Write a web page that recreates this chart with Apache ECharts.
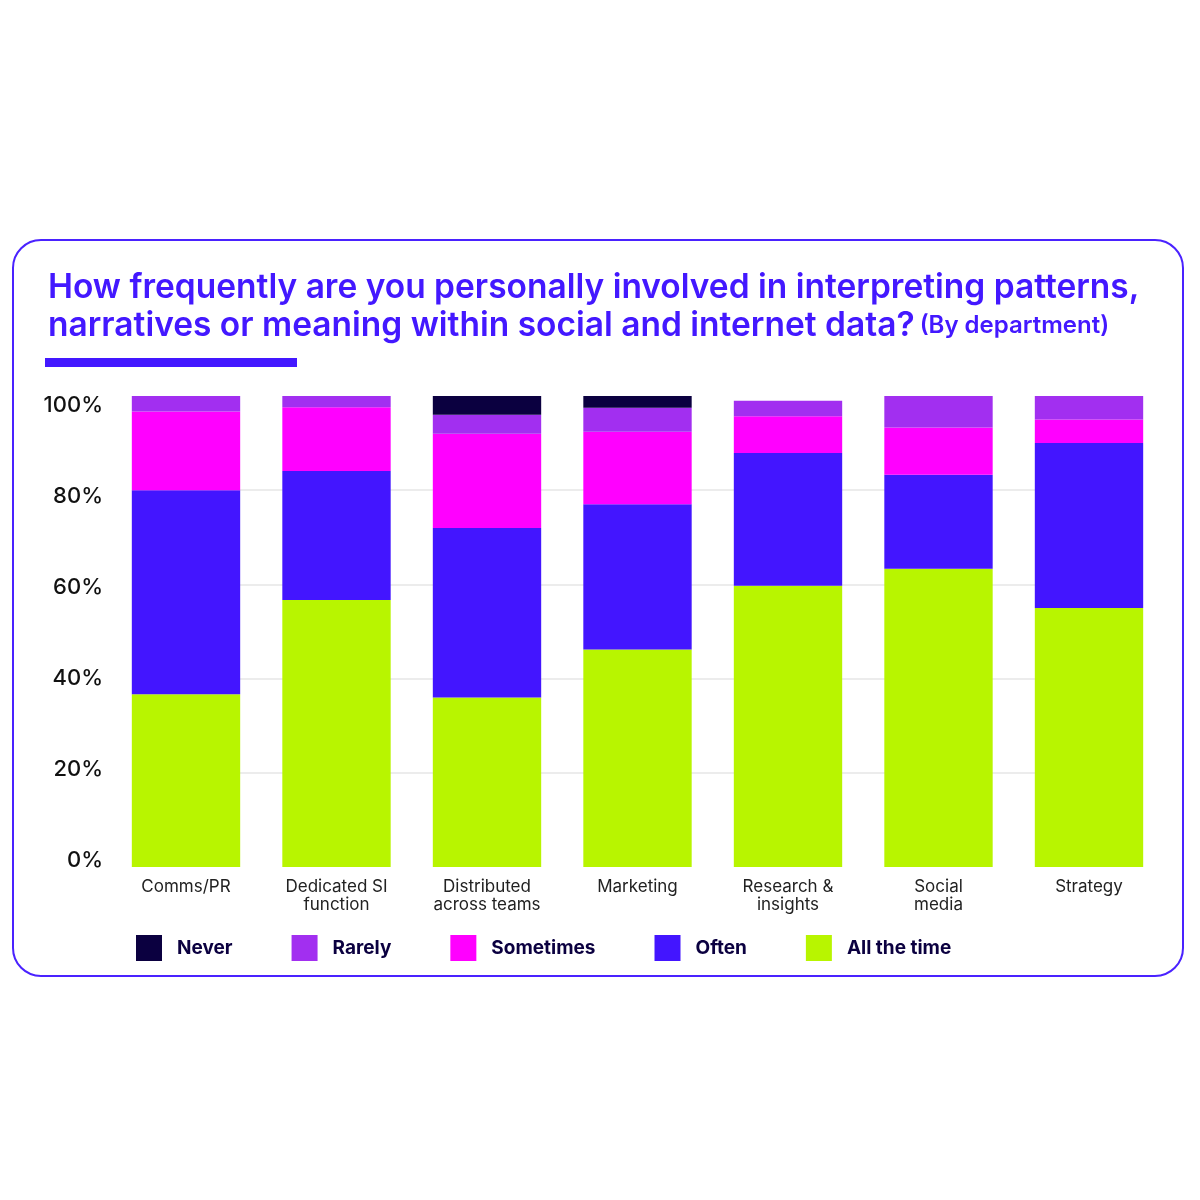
<!DOCTYPE html>
<html lang="en">
<head>
    <meta charset="UTF-8" />
    <title>Involvement in interpreting social data - by department</title>
    <script src="https://cdn.jsdelivr.net/npm/echarts@6.0.0/dist/echarts.min.js"></script>
    <style>
        html, body {
            margin: 0;
            padding: 0;
            width: 1200px;
            height: 1200px;
            background: #ffffff;
        }
        #chart {
            width: 1200px;
            height: 1200px;
        }
    </style>
</head>
<body>
<div id="chart"></div>
<script>
    const departments = ['Comms/PR', 'Dedicated SI\nfunction', 'Distributed\nacross teams', 'Marketing', 'Research &\ninsights', 'Social\nmedia', 'Strategy'];
    const allTheTime = [36.7, 56.7, 36.0, 46.2, 59.7, 63.3, 55.0];
    const often = [43.3, 27.4, 36.0, 30.8, 28.2, 20.0, 35.0];
    const sometimes = [16.7, 13.5, 20.0, 15.4, 7.8, 10.0, 5.0];
    const rarely = [3.3, 2.4, 4.0, 5.1, 3.3, 6.7, 5.0];
    const never = [0, 0, 4.0, 2.6, 0, 0, 0];
    const legendOrder = ['Never', 'Rarely', 'Sometimes', 'Often', 'All the time'];

    const FONT = 'Inter, "Noto Sans", sans-serif';
    const colors = {
        'Never': '#0b0040',
        'Rarely': '#a22ff0',
        'Sometimes': '#ff00ff',
        'Often': '#4315ff',
        'All the time': '#b8f500'
    };

    const chart = echarts.init(document.getElementById('chart'));

    // stacked from the bottom up
    const stack = [
        ['All the time', allTheTime],
        ['Often', often],
        ['Sometimes', sometimes],
        ['Rarely', rarely],
        ['Never', never]
    ];

    const option = {
        animation: false,
        graphic: [
            {
                type: 'rect',
                shape: { x: 13, y: 240, width: 1170, height: 736, r: 28 },
                style: { fill: 'none', stroke: '#4a22ff', lineWidth: 2 },
                silent: true
            },
            {
                type: 'rect',
                shape: { x: 45, y: 358, width: 252, height: 9 },
                style: { fill: '#4318ff' },
                silent: true
            }
        ],
        title: {
            left: 43,
            top: 264,
            text: '{a|How frequently are you personally involved in interpreting patterns,}\n{a|narratives or meaning within social and internet data?} {b|(By department)}',
            textStyle: {
                rich: {
                    a: { fontFamily: FONT, fontSize: 33.5, fontWeight: 600, color: '#4318ff', lineHeight: 38 },
                    b: { fontFamily: FONT, fontSize: 24, fontWeight: 600, color: '#4318ff', lineHeight: 38 }
                }
            }
        },
        legend: {
            data: legendOrder,
            left: 131,
            top: 930,
            itemWidth: 26,
            itemHeight: 26,
            itemGap: 59,
            icon: 'rect',
            selectedMode: false,
            textStyle: {
                fontFamily: FONT,
                fontSize: 19,
                fontWeight: 700,
                color: '#0b0040',
                padding: [0, 0, 0, 10]
            }
        },
        grid: [
            { left: 110.75, right: 35.75, top: 396, bottom: 333 },   // bars
            { left: 110, right: 36, top: 405, bottom: 340 },         // y tick labels
            { left: 132, right: 57, top: 490, bottom: 427 }          // gridlines 20-80
        ],
        xAxis: [
            {
                type: 'category',
                gridIndex: 0,
                data: departments,
                axisLine: { show: false },
                axisTick: { show: false },
                axisLabel: {
                    interval: 0,
                    margin: 11,
                    fontFamily: FONT,
                    fontSize: 17,
                    lineHeight: 18,
                    color: '#222222',
                    verticalAlign: 'top'
                }
            },
            { type: 'value', gridIndex: 1, show: false },
            { type: 'value', gridIndex: 2, show: false }
        ],
        yAxis: [
            {
                type: 'value',
                gridIndex: 0,
                min: 0,
                max: 100,
                interval: 20,
                axisLabel: { show: false },
                axisLine: { show: false },
                axisTick: { show: false },
                splitLine: { show: false }
            },
            {
                type: 'value',
                gridIndex: 1,
                min: 0,
                max: 100,
                interval: 20,
                axisLine: { show: false },
                axisTick: { show: false },
                splitLine: { show: false },
                axisLabel: {
                    margin: 7,
                    formatter: '{value}%',
                    fontFamily: FONT,
                    fontSize: 22,
                    fontWeight: 500,
                    color: '#111111'
                }
            },
            {
                type: 'value',
                gridIndex: 2,
                min: 20,
                max: 80,
                interval: 20,
                axisLine: { show: false },
                axisTick: { show: false },
                axisLabel: { show: false },
                splitLine: { lineStyle: { color: '#e6e6e6', width: 1.5 } }
            }
        ],
        series: stack.map(([name, values]) => ({
            name: name,
            type: 'bar',
            stack: 'total',
            xAxisIndex: 0,
            yAxisIndex: 0,
            barCategoryGap: '28%',
            data: values,
            itemStyle: { color: colors[name] }
        }))
    };

    chart.setOption(option);
</script>
</body>
</html>
